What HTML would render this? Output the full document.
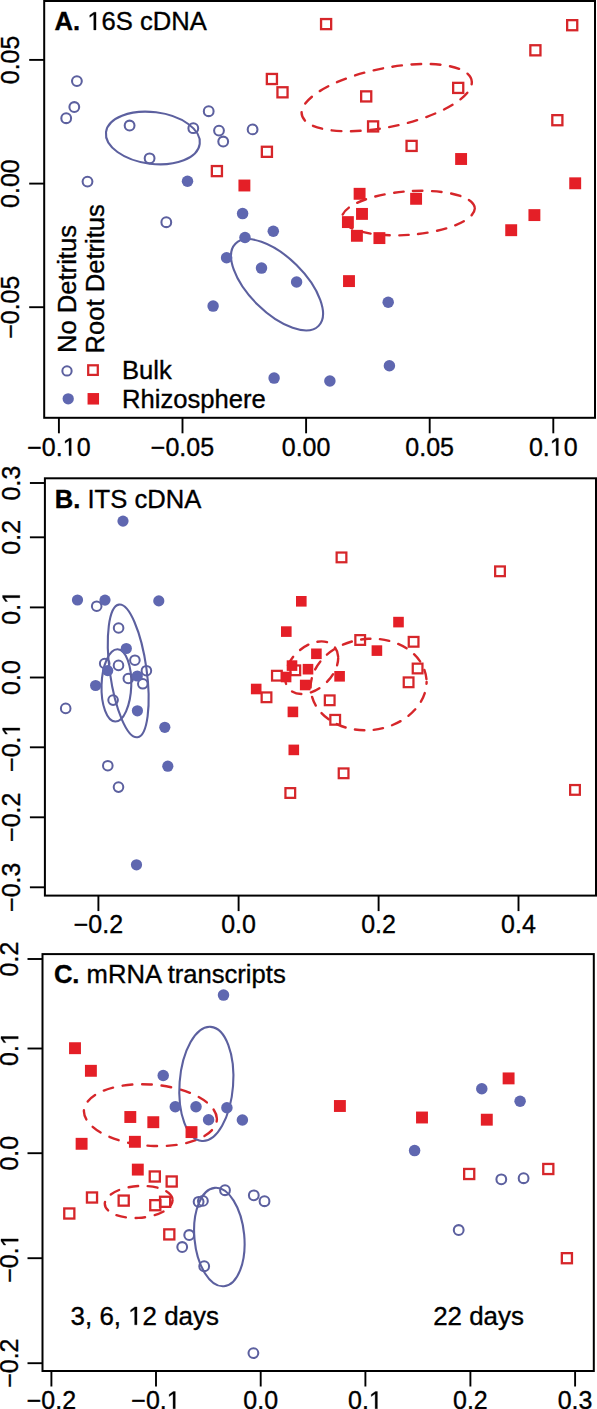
<!DOCTYPE html>
<html><head><meta charset="utf-8"><title>Ordination plots</title>
<style>
html,body{margin:0;padding:0;background:#fff;}
svg{display:block;}
text{font-family:"Liberation Sans", sans-serif;font-size:25px;fill:#000;stroke:#000;stroke-width:0.35px;}
.an{font-size:25.6px;}
.an2{font-size:25.9px;}
.h1{fill-opacity:0;stroke-opacity:0;}
</style></head>
<body>
<svg width="597" height="1409" viewBox="0 0 597 1409">
<rect width="597" height="1409" fill="#fff"/>
<line x1="58.9" y1="417.8" x2="58.9" y2="433.3" stroke="#000" stroke-width="1.9"/>
<text id="t1" x="58.9" y="455.5" text-anchor="middle">−0.<tspan class="h1">1</tspan>0</text>
<line x1="182.5" y1="417.8" x2="182.5" y2="433.3" stroke="#000" stroke-width="1.9"/>
<text id="t2" x="182.5" y="455.5" text-anchor="middle">−0.05</text>
<line x1="306.1" y1="417.8" x2="306.1" y2="433.3" stroke="#000" stroke-width="1.9"/>
<text id="t3" x="306.1" y="455.5" text-anchor="middle">0.00</text>
<line x1="429.7" y1="417.8" x2="429.7" y2="433.3" stroke="#000" stroke-width="1.9"/>
<text id="t4" x="429.7" y="455.5" text-anchor="middle">0.05</text>
<line x1="553.3" y1="417.8" x2="553.3" y2="433.3" stroke="#000" stroke-width="1.9"/>
<text id="t5" x="553.3" y="455.5" text-anchor="middle">0.<tspan class="h1">1</tspan>0</text>
<line x1="29.200000000000003" y1="59.9" x2="44.2" y2="59.9" stroke="#000" stroke-width="1.9"/>
<text id="t6" transform="translate(19.4 59.9) rotate(-90)" text-anchor="middle">0.05</text>
<line x1="29.200000000000003" y1="183.6" x2="44.2" y2="183.6" stroke="#000" stroke-width="1.9"/>
<text id="t7" transform="translate(19.4 183.6) rotate(-90)" text-anchor="middle">0.00</text>
<line x1="29.200000000000003" y1="307.2" x2="44.2" y2="307.2" stroke="#000" stroke-width="1.9"/>
<text id="t8" transform="translate(19.4 307.2) rotate(-90)" text-anchor="middle">−0.05</text>
<line x1="98.4" y1="895.6" x2="98.4" y2="911.1" stroke="#000" stroke-width="1.9"/>
<text id="t9" x="98.4" y="932.8" text-anchor="middle">−0.2</text>
<line x1="238.6" y1="895.6" x2="238.6" y2="911.1" stroke="#000" stroke-width="1.9"/>
<text id="t10" x="238.6" y="932.8" text-anchor="middle">0.0</text>
<line x1="378.6" y1="895.6" x2="378.6" y2="911.1" stroke="#000" stroke-width="1.9"/>
<text id="t11" x="378.6" y="932.8" text-anchor="middle">0.2</text>
<line x1="518.5" y1="895.6" x2="518.5" y2="911.1" stroke="#000" stroke-width="1.9"/>
<text id="t12" x="518.5" y="932.8" text-anchor="middle">0.4</text>
<line x1="29.9" y1="483" x2="44.9" y2="483" stroke="#000" stroke-width="1.9"/>
<text id="t13" transform="translate(19.8 483) rotate(-90)" text-anchor="middle">0.3</text>
<line x1="29.9" y1="537.3" x2="44.9" y2="537.3" stroke="#000" stroke-width="1.9"/>
<text id="t14" transform="translate(19.8 537.3) rotate(-90)" text-anchor="middle">0.2</text>
<line x1="29.9" y1="607.4" x2="44.9" y2="607.4" stroke="#000" stroke-width="1.9"/>
<text id="t15" transform="translate(19.8 607.4) rotate(-90)" text-anchor="middle">0.<tspan class="h1">1</tspan></text>
<line x1="29.9" y1="677.5" x2="44.9" y2="677.5" stroke="#000" stroke-width="1.9"/>
<text id="t16" transform="translate(19.8 677.5) rotate(-90)" text-anchor="middle">0.0</text>
<line x1="29.9" y1="747.3" x2="44.9" y2="747.3" stroke="#000" stroke-width="1.9"/>
<text id="t17" transform="translate(19.8 747.3) rotate(-90)" text-anchor="middle">−0.<tspan class="h1">1</tspan></text>
<line x1="29.9" y1="817.3" x2="44.9" y2="817.3" stroke="#000" stroke-width="1.9"/>
<text id="t18" transform="translate(19.8 817.3) rotate(-90)" text-anchor="middle">−0.2</text>
<line x1="29.9" y1="887.3" x2="44.9" y2="887.3" stroke="#000" stroke-width="1.9"/>
<text id="t19" transform="translate(19.8 887.3) rotate(-90)" text-anchor="middle">−0.3</text>
<line x1="51.4" y1="1371" x2="51.4" y2="1386.5" stroke="#000" stroke-width="1.9"/>
<text id="t20" x="51.4" y="1408.8" text-anchor="middle">−0.2</text>
<line x1="156" y1="1371" x2="156" y2="1386.5" stroke="#000" stroke-width="1.9"/>
<text id="t21" x="156" y="1408.8" text-anchor="middle">−0.<tspan class="h1">1</tspan></text>
<line x1="260.7" y1="1371" x2="260.7" y2="1386.5" stroke="#000" stroke-width="1.9"/>
<text id="t22" x="260.7" y="1408.8" text-anchor="middle">0.0</text>
<line x1="365.4" y1="1371" x2="365.4" y2="1386.5" stroke="#000" stroke-width="1.9"/>
<text id="t23" x="365.4" y="1408.8" text-anchor="middle">0.<tspan class="h1">1</tspan></text>
<line x1="470.4" y1="1371" x2="470.4" y2="1386.5" stroke="#000" stroke-width="1.9"/>
<text id="t24" x="470.4" y="1408.8" text-anchor="middle">0.2</text>
<line x1="575.1" y1="1371" x2="575.1" y2="1386.5" stroke="#000" stroke-width="1.9"/>
<text id="t25" x="575.1" y="1408.8" text-anchor="middle">0.3</text>
<line x1="27.5" y1="959" x2="42.5" y2="959" stroke="#000" stroke-width="1.9"/>
<text id="t26" transform="translate(18.2 959) rotate(-90)" text-anchor="middle">0.2</text>
<line x1="27.5" y1="1048.5" x2="42.5" y2="1048.5" stroke="#000" stroke-width="1.9"/>
<text id="t27" transform="translate(18.2 1048.5) rotate(-90)" text-anchor="middle">0.<tspan class="h1">1</tspan></text>
<line x1="27.5" y1="1153.2" x2="42.5" y2="1153.2" stroke="#000" stroke-width="1.9"/>
<text id="t28" transform="translate(18.2 1153.2) rotate(-90)" text-anchor="middle">0.0</text>
<line x1="27.5" y1="1258.2" x2="42.5" y2="1258.2" stroke="#000" stroke-width="1.9"/>
<text id="t29" transform="translate(18.2 1258.2) rotate(-90)" text-anchor="middle">−0.<tspan class="h1">1</tspan></text>
<line x1="27.5" y1="1363.2" x2="42.5" y2="1363.2" stroke="#000" stroke-width="1.9"/>
<text id="t30" transform="translate(18.2 1363.2) rotate(-90)" text-anchor="middle">−0.2</text>
<ellipse cx="0" cy="0" rx="47.23" ry="25.87" transform="translate(152.87 138.00) rotate(7.14)" fill="none" stroke="#5c609f" stroke-width="2.1"/>
<ellipse cx="0" cy="0" rx="58.46" ry="27.79" transform="translate(277.01 284.79) rotate(44.64)" fill="none" stroke="#5c609f" stroke-width="2.1"/>
<path d="M471.83 82.33A86.66 29.45 -11.52 0 0 301.59 112.87A86.66 29.45 -11.52 0 0 471.83 82.33Z" fill="none" stroke="#d6262a" stroke-width="2.4" stroke-dasharray="9.600 9.600" stroke-dashoffset="18.69" stroke-linecap="round"/>
<path d="M474.79 208.51A66.59 21.92 -4.44 0 0 341.97 217.69A66.59 21.92 -4.44 0 0 474.79 208.51Z" fill="none" stroke="#d6262a" stroke-width="2.4" stroke-dasharray="9.525 9.525" stroke-dashoffset="17.75" stroke-linecap="round"/>
<ellipse cx="0" cy="0" rx="66.95" ry="18.38" transform="translate(128.22 670.92) rotate(82.06)" fill="none" stroke="#5c609f" stroke-width="2.1"/>
<ellipse cx="0" cy="0" rx="36.17" ry="14.87" transform="translate(116.41 685.40) rotate(-88.09)" fill="none" stroke="#5c609f" stroke-width="2.1"/>
<path d="M338.20 657.93A30.98 20.96 -44.13 0 0 285.00 677.47A30.98 20.96 -44.13 0 0 338.20 657.93Z" fill="none" stroke="#d6262a" stroke-width="2.4" stroke-dasharray="9.675 9.675" stroke-dashoffset="18.00" stroke-linecap="round"/>
<path d="M426.60 681.91A58.16 46.10 -6.91 0 0 310.60 687.09A58.16 46.10 -6.91 0 0 426.60 681.91Z" fill="none" stroke="#d6262a" stroke-width="2.4" stroke-dasharray="9.450 9.450" stroke-dashoffset="16.00" stroke-linecap="round"/>
<path d="M216.90 1119.06A66.65 30.94 4.29 0 0 83.90 1111.24A66.65 30.94 4.29 0 0 216.90 1119.06Z" fill="none" stroke="#d6262a" stroke-width="2.4" stroke-dasharray="9.750 9.750" stroke-dashoffset="18.89" stroke-linecap="round"/>
<ellipse cx="0" cy="0" rx="57.23" ry="26.77" transform="translate(206.35 1083.90) rotate(-85.57)" fill="none" stroke="#5c609f" stroke-width="2.1"/>
<path d="M172.60 1200.12A33.96 15.92 -3.96 0 0 104.80 1203.78A33.96 15.92 -3.96 0 0 172.60 1200.12Z" fill="none" stroke="#d6262a" stroke-width="2.4" stroke-dasharray="9.625 9.625" stroke-dashoffset="17.40" stroke-linecap="round"/>
<ellipse cx="0" cy="0" rx="49.41" ry="24.93" transform="translate(219.35 1237.05) rotate(84.62)" fill="none" stroke="#5c609f" stroke-width="2.1"/>
<circle cx="76.9" cy="81.1" r="4.9" fill="none" stroke="#5c609f" stroke-width="2.05"/>
<circle cx="74.3" cy="107" r="4.9" fill="none" stroke="#5c609f" stroke-width="2.05"/>
<circle cx="66.2" cy="118.2" r="4.9" fill="none" stroke="#5c609f" stroke-width="2.05"/>
<circle cx="129.6" cy="125.5" r="4.9" fill="none" stroke="#5c609f" stroke-width="2.05"/>
<circle cx="193.3" cy="128.2" r="4.9" fill="none" stroke="#5c609f" stroke-width="2.05"/>
<circle cx="149.6" cy="158.3" r="4.9" fill="none" stroke="#5c609f" stroke-width="2.05"/>
<circle cx="87.5" cy="181.6" r="4.9" fill="none" stroke="#5c609f" stroke-width="2.05"/>
<circle cx="208.7" cy="111.2" r="4.9" fill="none" stroke="#5c609f" stroke-width="2.05"/>
<circle cx="219" cy="130.6" r="4.9" fill="none" stroke="#5c609f" stroke-width="2.05"/>
<circle cx="223.2" cy="141.5" r="4.9" fill="none" stroke="#5c609f" stroke-width="2.05"/>
<circle cx="252.6" cy="129.4" r="4.9" fill="none" stroke="#5c609f" stroke-width="2.05"/>
<circle cx="166.3" cy="222.2" r="4.9" fill="none" stroke="#5c609f" stroke-width="2.05"/>
<circle cx="187.5" cy="181.2" r="5.75" fill="#5f67b0"/>
<circle cx="242.6" cy="213.6" r="5.75" fill="#5f67b0"/>
<circle cx="273.3" cy="231.3" r="5.75" fill="#5f67b0"/>
<circle cx="245" cy="237.5" r="5.75" fill="#5f67b0"/>
<circle cx="226.6" cy="257.7" r="5.75" fill="#5f67b0"/>
<circle cx="261.5" cy="268.1" r="5.75" fill="#5f67b0"/>
<circle cx="296.6" cy="282" r="5.75" fill="#5f67b0"/>
<circle cx="213.1" cy="306.1" r="5.75" fill="#5f67b0"/>
<circle cx="388.2" cy="302.2" r="5.75" fill="#5f67b0"/>
<circle cx="389.4" cy="365.7" r="5.75" fill="#5f67b0"/>
<circle cx="274.1" cy="378.1" r="5.75" fill="#5f67b0"/>
<circle cx="329.9" cy="381" r="5.75" fill="#5f67b0"/>
<rect x="321.05" y="19.05" width="10.1" height="10.1" fill="none" stroke="#d6262a" stroke-width="2.3"/>
<rect x="266.85" y="73.95" width="10.1" height="10.1" fill="none" stroke="#d6262a" stroke-width="2.3"/>
<rect x="277.45" y="87.25" width="10.1" height="10.1" fill="none" stroke="#d6262a" stroke-width="2.3"/>
<rect x="361.15" y="91.35" width="10.1" height="10.1" fill="none" stroke="#d6262a" stroke-width="2.3"/>
<rect x="368.05" y="121.35" width="10.1" height="10.1" fill="none" stroke="#d6262a" stroke-width="2.3"/>
<rect x="453.15" y="82.85" width="10.1" height="10.1" fill="none" stroke="#d6262a" stroke-width="2.3"/>
<rect x="567.15" y="20.15" width="10.1" height="10.1" fill="none" stroke="#d6262a" stroke-width="2.3"/>
<rect x="530.35" y="45.25" width="10.1" height="10.1" fill="none" stroke="#d6262a" stroke-width="2.3"/>
<rect x="552.30" y="115.15" width="10.1" height="10.1" fill="none" stroke="#d6262a" stroke-width="2.3"/>
<rect x="406.55" y="140.85" width="10.1" height="10.1" fill="none" stroke="#d6262a" stroke-width="2.3"/>
<rect x="261.85" y="146.75" width="10.1" height="10.1" fill="none" stroke="#d6262a" stroke-width="2.3"/>
<rect x="211.85" y="166.05" width="10.1" height="10.1" fill="none" stroke="#d6262a" stroke-width="2.3"/>
<rect x="238.45" y="179.55" width="11.9" height="11.9" fill="#e41f27"/>
<rect x="353.65" y="187.85" width="11.9" height="11.9" fill="#e41f27"/>
<rect x="356.05" y="207.95" width="11.9" height="11.9" fill="#e41f27"/>
<rect x="341.95" y="216.15" width="11.9" height="11.9" fill="#e41f27"/>
<rect x="350.95" y="229.85" width="11.9" height="11.9" fill="#e41f27"/>
<rect x="373.45" y="232.15" width="11.9" height="11.9" fill="#e41f27"/>
<rect x="410.15" y="192.85" width="11.9" height="11.9" fill="#e41f27"/>
<rect x="455.15" y="153.05" width="11.9" height="11.9" fill="#e41f27"/>
<rect x="343.05" y="275.15" width="11.9" height="11.9" fill="#e41f27"/>
<rect x="505.25" y="224.25" width="11.9" height="11.9" fill="#e41f27"/>
<rect x="528.45" y="209.15" width="11.9" height="11.9" fill="#e41f27"/>
<rect x="569.25" y="177.35" width="11.9" height="11.9" fill="#e41f27"/>
<circle cx="96.7" cy="606.2" r="4.8" fill="none" stroke="#5c609f" stroke-width="2.0"/>
<circle cx="118.6" cy="628" r="4.8" fill="none" stroke="#5c609f" stroke-width="2.0"/>
<circle cx="134.9" cy="660.2" r="4.8" fill="none" stroke="#5c609f" stroke-width="2.0"/>
<circle cx="104.7" cy="663.5" r="4.8" fill="none" stroke="#5c609f" stroke-width="2.0"/>
<circle cx="118.5" cy="665.4" r="4.8" fill="none" stroke="#5c609f" stroke-width="2.0"/>
<circle cx="146.4" cy="670.7" r="4.8" fill="none" stroke="#5c609f" stroke-width="2.0"/>
<circle cx="128.3" cy="678.5" r="4.8" fill="none" stroke="#5c609f" stroke-width="2.0"/>
<circle cx="142.8" cy="683.8" r="4.8" fill="none" stroke="#5c609f" stroke-width="2.0"/>
<circle cx="113.1" cy="700.1" r="4.8" fill="none" stroke="#5c609f" stroke-width="2.0"/>
<circle cx="65.7" cy="708.4" r="4.8" fill="none" stroke="#5c609f" stroke-width="2.0"/>
<circle cx="107.8" cy="765.7" r="4.8" fill="none" stroke="#5c609f" stroke-width="2.0"/>
<circle cx="118.5" cy="787.1" r="4.8" fill="none" stroke="#5c609f" stroke-width="2.0"/>
<circle cx="123" cy="521.1" r="5.6" fill="#5f67b0"/>
<circle cx="77.5" cy="600" r="5.6" fill="#5f67b0"/>
<circle cx="105" cy="600.1" r="5.6" fill="#5f67b0"/>
<circle cx="158.8" cy="600.9" r="5.6" fill="#5f67b0"/>
<circle cx="126.3" cy="648.5" r="5.6" fill="#5f67b0"/>
<circle cx="107.7" cy="670.6" r="5.6" fill="#5f67b0"/>
<circle cx="137.3" cy="676" r="5.6" fill="#5f67b0"/>
<circle cx="95.6" cy="685.5" r="5.6" fill="#5f67b0"/>
<circle cx="137.4" cy="710.8" r="5.6" fill="#5f67b0"/>
<circle cx="164.8" cy="727.3" r="5.6" fill="#5f67b0"/>
<circle cx="167.8" cy="766.2" r="5.6" fill="#5f67b0"/>
<circle cx="136.5" cy="864.8" r="5.6" fill="#5f67b0"/>
<rect x="336.65" y="552.55" width="9.7" height="9.7" fill="none" stroke="#d6262a" stroke-width="2.25"/>
<rect x="495.15" y="566.45" width="9.7" height="9.7" fill="none" stroke="#d6262a" stroke-width="2.25"/>
<rect x="355.35" y="635.15" width="9.7" height="9.7" fill="none" stroke="#d6262a" stroke-width="2.25"/>
<rect x="408.75" y="636.95" width="9.7" height="9.7" fill="none" stroke="#d6262a" stroke-width="2.25"/>
<rect x="412.75" y="663.65" width="9.7" height="9.7" fill="none" stroke="#d6262a" stroke-width="2.25"/>
<rect x="290.45" y="665.45" width="9.7" height="9.7" fill="none" stroke="#d6262a" stroke-width="2.25"/>
<rect x="272.05" y="670.85" width="9.7" height="9.7" fill="none" stroke="#d6262a" stroke-width="2.25"/>
<rect x="403.75" y="677.45" width="9.7" height="9.7" fill="none" stroke="#d6262a" stroke-width="2.25"/>
<rect x="261.65" y="692.45" width="9.7" height="9.7" fill="none" stroke="#d6262a" stroke-width="2.25"/>
<rect x="324.85" y="695.45" width="9.7" height="9.7" fill="none" stroke="#d6262a" stroke-width="2.25"/>
<rect x="330.35" y="714.95" width="9.7" height="9.7" fill="none" stroke="#d6262a" stroke-width="2.25"/>
<rect x="338.75" y="768.45" width="9.7" height="9.7" fill="none" stroke="#d6262a" stroke-width="2.25"/>
<rect x="285.45" y="788.15" width="9.7" height="9.7" fill="none" stroke="#d6262a" stroke-width="2.25"/>
<rect x="570.15" y="785.05" width="9.7" height="9.7" fill="none" stroke="#d6262a" stroke-width="2.25"/>
<rect x="296.00" y="596.00" width="10.6" height="10.6" fill="#e41f27"/>
<rect x="281.00" y="626.30" width="10.6" height="10.6" fill="#e41f27"/>
<rect x="393.20" y="616.80" width="10.6" height="10.6" fill="#e41f27"/>
<rect x="371.60" y="645.30" width="10.6" height="10.6" fill="#e41f27"/>
<rect x="311.10" y="648.50" width="10.6" height="10.6" fill="#e41f27"/>
<rect x="286.70" y="660.30" width="10.6" height="10.6" fill="#e41f27"/>
<rect x="302.70" y="663.90" width="10.6" height="10.6" fill="#e41f27"/>
<rect x="280.80" y="671.70" width="10.6" height="10.6" fill="#e41f27"/>
<rect x="334.30" y="671.00" width="10.6" height="10.6" fill="#e41f27"/>
<rect x="299.90" y="679.70" width="10.6" height="10.6" fill="#e41f27"/>
<rect x="250.90" y="683.70" width="10.6" height="10.6" fill="#e41f27"/>
<rect x="287.60" y="706.60" width="10.6" height="10.6" fill="#e41f27"/>
<rect x="288.50" y="744.60" width="10.6" height="10.6" fill="#e41f27"/>
<circle cx="198.6" cy="1201.8" r="4.9" fill="none" stroke="#5c609f" stroke-width="2.05"/>
<circle cx="202.9" cy="1200.9" r="4.9" fill="none" stroke="#5c609f" stroke-width="2.05"/>
<circle cx="225" cy="1190.2" r="4.9" fill="none" stroke="#5c609f" stroke-width="2.05"/>
<circle cx="253.8" cy="1195.3" r="4.9" fill="none" stroke="#5c609f" stroke-width="2.05"/>
<circle cx="264.5" cy="1201.2" r="4.9" fill="none" stroke="#5c609f" stroke-width="2.05"/>
<circle cx="189.2" cy="1235" r="4.9" fill="none" stroke="#5c609f" stroke-width="2.05"/>
<circle cx="182.2" cy="1247" r="4.9" fill="none" stroke="#5c609f" stroke-width="2.05"/>
<circle cx="204.2" cy="1266.2" r="4.9" fill="none" stroke="#5c609f" stroke-width="2.05"/>
<circle cx="253.4" cy="1353.1" r="4.9" fill="none" stroke="#5c609f" stroke-width="2.05"/>
<circle cx="458.7" cy="1230" r="4.9" fill="none" stroke="#5c609f" stroke-width="2.05"/>
<circle cx="501.3" cy="1179.3" r="4.9" fill="none" stroke="#5c609f" stroke-width="2.05"/>
<circle cx="523.6" cy="1178.2" r="4.9" fill="none" stroke="#5c609f" stroke-width="2.05"/>
<circle cx="223.5" cy="995.1" r="5.75" fill="#5f67b0"/>
<circle cx="163.2" cy="1075.5" r="5.75" fill="#5f67b0"/>
<circle cx="175.3" cy="1106.7" r="5.75" fill="#5f67b0"/>
<circle cx="196" cy="1106.7" r="5.75" fill="#5f67b0"/>
<circle cx="208.6" cy="1119.8" r="5.75" fill="#5f67b0"/>
<circle cx="226.9" cy="1107.8" r="5.75" fill="#5f67b0"/>
<circle cx="242.4" cy="1120" r="5.75" fill="#5f67b0"/>
<circle cx="414.6" cy="1150.6" r="5.75" fill="#5f67b0"/>
<circle cx="481.8" cy="1088.7" r="5.75" fill="#5f67b0"/>
<circle cx="520.1" cy="1101.3" r="5.75" fill="#5f67b0"/>
<rect x="149.75" y="1171.45" width="10.1" height="10.1" fill="none" stroke="#d6262a" stroke-width="2.3"/>
<rect x="166.65" y="1176.45" width="10.1" height="10.1" fill="none" stroke="#d6262a" stroke-width="2.3"/>
<rect x="86.95" y="1192.45" width="10.1" height="10.1" fill="none" stroke="#d6262a" stroke-width="2.3"/>
<rect x="118.65" y="1195.55" width="10.1" height="10.1" fill="none" stroke="#d6262a" stroke-width="2.3"/>
<rect x="150.25" y="1200.15" width="10.1" height="10.1" fill="none" stroke="#d6262a" stroke-width="2.3"/>
<rect x="160.05" y="1196.75" width="10.1" height="10.1" fill="none" stroke="#d6262a" stroke-width="2.3"/>
<rect x="64.25" y="1208.45" width="10.1" height="10.1" fill="none" stroke="#d6262a" stroke-width="2.3"/>
<rect x="164.25" y="1229.35" width="10.1" height="10.1" fill="none" stroke="#d6262a" stroke-width="2.3"/>
<rect x="464.15" y="1168.95" width="10.1" height="10.1" fill="none" stroke="#d6262a" stroke-width="2.3"/>
<rect x="543.25" y="1163.95" width="10.1" height="10.1" fill="none" stroke="#d6262a" stroke-width="2.3"/>
<rect x="561.85" y="1253.15" width="10.1" height="10.1" fill="none" stroke="#d6262a" stroke-width="2.3"/>
<rect x="69.05" y="1042.25" width="11.9" height="11.9" fill="#e41f27"/>
<rect x="84.95" y="1064.85" width="11.9" height="11.9" fill="#e41f27"/>
<rect x="124.35" y="1111.05" width="11.9" height="11.9" fill="#e41f27"/>
<rect x="147.35" y="1116.25" width="11.9" height="11.9" fill="#e41f27"/>
<rect x="75.65" y="1137.85" width="11.9" height="11.9" fill="#e41f27"/>
<rect x="128.95" y="1135.85" width="11.9" height="11.9" fill="#e41f27"/>
<rect x="185.55" y="1126.15" width="11.9" height="11.9" fill="#e41f27"/>
<rect x="131.85" y="1163.65" width="11.9" height="11.9" fill="#e41f27"/>
<rect x="333.95" y="1100.05" width="11.9" height="11.9" fill="#e41f27"/>
<rect x="416.05" y="1111.55" width="11.9" height="11.9" fill="#e41f27"/>
<rect x="502.65" y="1072.45" width="11.9" height="11.9" fill="#e41f27"/>
<rect x="480.85" y="1113.75" width="11.9" height="11.9" fill="#e41f27"/>
<rect x="44.2" y="1" width="550.8" height="416.8" fill="none" stroke="#000" stroke-width="2"/>
<rect x="44.9" y="478.3" width="551.1" height="417.3" fill="none" stroke="#000" stroke-width="2"/>
<rect x="42.5" y="954.1" width="551.3" height="416.9" fill="none" stroke="#000" stroke-width="2"/>
<text id="t31" class="an" x="54.6" y="29.9"><tspan font-weight="bold">A.</tspan> <tspan class="h1">1</tspan>6S cDNA</text>
<text id="t32" class="an" x="54.8" y="507.8"><tspan font-weight="bold">B.</tspan> ITS cDNA</text>
<text id="t33" class="an" x="53.9" y="983.0"><tspan font-weight="bold">C.</tspan> mRNA transcripts</text>
<text id="t34" class="an" transform="translate(76.3 353) rotate(-90)">No Detritus</text>
<text id="t35" class="an" transform="translate(103.9 353.5) rotate(-90)">Root Detritus</text>
<circle cx="67" cy="370.9" r="4.65" fill="none" stroke="#5c609f" stroke-width="2.0"/>
<rect x="88.20" y="365.30" width="9.6" height="9.6" fill="none" stroke="#d6262a" stroke-width="2.25"/>
<circle cx="68.2" cy="398.8" r="5.65" fill="#5f67b0"/>
<rect x="87.55" y="393.05" width="11.5" height="11.5" fill="#e41f27"/>
<text id="t36" class="an" x="122" y="378.8">Bulk</text>
<text id="t37" class="an" x="122" y="407.6">Rhizosphere</text>
<text id="t38" class="an2" x="70.6" y="1324.8">3, 6, <tspan class="h1">1</tspan>2 days</text>
<text id="t39" class="an2" x="433.2" y="1324.8">22 days</text>
<path d="M515 0L696 0L696 1409L530 1409L197 1180L197 1010L515 1237Z" transform="translate(62.720 455.500) scale(0.012207 -0.012207)" fill="#000" stroke="#000" stroke-width="28.7"/>
<path d="M515 0L696 0L696 1409L530 1409L197 1180L197 1010L515 1237Z" transform="translate(549.823 455.500) scale(0.012207 -0.012207)" fill="#000" stroke="#000" stroke-width="28.7"/>
<path d="M515 0L696 0L696 1409L530 1409L197 1180L197 1010L515 1237Z" transform="translate(19.8 607.4) rotate(-90) translate(3.477 0.000) scale(0.012207 -0.012207)" fill="#000" stroke="#000" stroke-width="28.7"/>
<path d="M515 0L696 0L696 1409L530 1409L197 1180L197 1010L515 1237Z" transform="translate(19.8 747.3) rotate(-90) translate(10.773 0.000) scale(0.012207 -0.012207)" fill="#000" stroke="#000" stroke-width="28.7"/>
<path d="M515 0L696 0L696 1409L530 1409L197 1180L197 1010L515 1237Z" transform="translate(166.773 1408.800) scale(0.012207 -0.012207)" fill="#000" stroke="#000" stroke-width="28.7"/>
<path d="M515 0L696 0L696 1409L530 1409L197 1180L197 1010L515 1237Z" transform="translate(368.877 1408.800) scale(0.012207 -0.012207)" fill="#000" stroke="#000" stroke-width="28.7"/>
<path d="M515 0L696 0L696 1409L530 1409L197 1180L197 1010L515 1237Z" transform="translate(18.2 1048.5) rotate(-90) translate(3.477 0.000) scale(0.012207 -0.012207)" fill="#000" stroke="#000" stroke-width="28.7"/>
<path d="M515 0L696 0L696 1409L530 1409L197 1180L197 1010L515 1237Z" transform="translate(18.2 1258.2) rotate(-90) translate(10.773 0.000) scale(0.012207 -0.012207)" fill="#000" stroke="#000" stroke-width="28.7"/>
<path d="M515 0L696 0L696 1409L530 1409L197 1180L197 1010L515 1237Z" transform="translate(87.319 29.900) scale(0.012500 -0.012500)" fill="#000" stroke="#000" stroke-width="28.0"/>
<path d="M515 0L696 0L696 1409L530 1409L197 1180L197 1010L515 1237Z" transform="translate(128.178 1324.800) scale(0.012646 -0.012646)" fill="#000" stroke="#000" stroke-width="27.7"/>
</svg>
</body></html>
